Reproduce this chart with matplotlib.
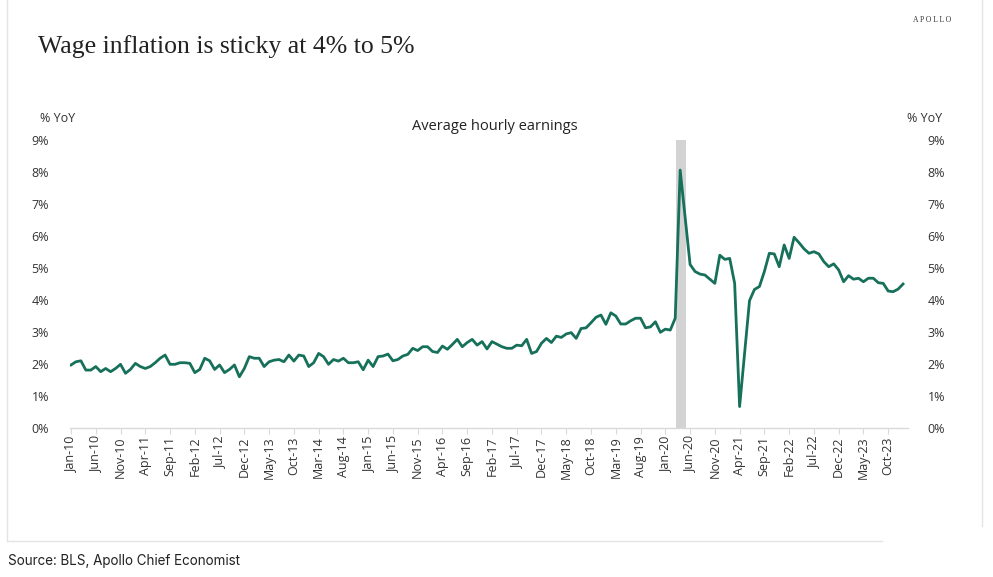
import matplotlib
matplotlib.use("Agg")
import matplotlib.pyplot as plt
import numpy as np
import pandas as pd

# Average hourly earnings, % YoY, monthly Jan-2010 .. Jan-2024
ahe_2010 = [1.97, 2.07, 2.10, 1.81, 1.81, 1.92, 1.76, 1.86, 1.76, 1.86, 1.99, 1.71]
ahe_2011 = [1.83, 2.02, 1.92, 1.86, 1.92, 2.04, 2.18, 2.28, 1.99, 1.99, 2.04, 2.04]
ahe_2012 = [2.02, 1.73, 1.83, 2.18, 2.10, 1.83, 1.97, 1.73, 1.83, 1.97, 1.60, 1.86]
ahe_2013 = [2.23, 2.18, 2.18, 1.92, 2.07, 2.12, 2.14, 2.07, 2.28, 2.09, 2.28, 2.25]
ahe_2014 = [1.92, 2.04, 2.33, 2.23, 1.99, 2.14, 2.09, 2.18, 2.04, 2.04, 2.07, 1.82]
ahe_2015 = [2.12, 1.92, 2.23, 2.25, 2.31, 2.10, 2.14, 2.25, 2.30, 2.49, 2.42, 2.54]
ahe_2016 = [2.54, 2.39, 2.36, 2.56, 2.46, 2.61, 2.77, 2.54, 2.67, 2.77, 2.59, 2.70]
ahe_2017 = [2.47, 2.70, 2.62, 2.54, 2.49, 2.49, 2.59, 2.57, 2.77, 2.33, 2.39, 2.65]
ahe_2018 = [2.80, 2.67, 2.87, 2.83, 2.94, 2.98, 2.80, 3.11, 3.13, 3.29, 3.46, 3.53]
ahe_2019 = [3.24, 3.60, 3.50, 3.25, 3.25, 3.35, 3.43, 3.43, 3.13, 3.16, 3.32, 2.99]
ahe_2020 = [3.09, 3.06, 3.43, 8.06, 6.60, 5.11, 4.89, 4.81, 4.78, 4.65, 4.52, 5.40]
ahe_2021 = [5.27, 5.30, 4.52, 0.67, 2.33, 3.98, 4.33, 4.42, 4.89, 5.46, 5.44, 5.04]
ahe_2022 = [5.72, 5.30, 5.96, 5.79, 5.60, 5.46, 5.51, 5.44, 5.20, 5.04, 5.13, 4.94]
ahe_2023 = [4.57, 4.76, 4.65, 4.68, 4.57, 4.68, 4.68, 4.54, 4.52, 4.28, 4.26, 4.34]
ahe_2024 = [4.50]

values = (ahe_2010 + ahe_2011 + ahe_2012 + ahe_2013 + ahe_2014 + ahe_2015 + ahe_2016
          + ahe_2017 + ahe_2018 + ahe_2019 + ahe_2020 + ahe_2021 + ahe_2022 + ahe_2023 + ahe_2024)
months = pd.date_range("2010-01-01", periods=len(values), freq="MS")
month_labels = [d.strftime("%b-%y") for d in months]

# recession band (in month index units)
rec_start, rec_end = 122.1, 124.1

y_ticks = [0, 1, 2, 3, 4, 5, 6, 7, 8, 9]
y_labels = [f"{v}%" for v in y_ticks]

W, H = 993, 577
fig = plt.figure(figsize=(W / 100, H / 100), dpi=100)

def px(x, y):
    return x / W, 1 - y / H

text_col = "#333333"
tick_font = "Open Sans"

ax = fig.add_axes([70 / W, 149 / H, 838 / W, 288 / H])
x = np.arange(len(values))
ax.axvspan(rec_start, rec_end, color="#d3d3d3", lw=0, zorder=0)
ax.plot(x, values, color="#16705a", lw=2.0, solid_joinstyle="round", zorder=3)
ax.set_xlim(-0.2, 169)
ax.set_ylim(0, 9)

for s in ["top", "left", "right"]:
    ax.spines[s].set_visible(False)
ax.spines["bottom"].set_color("#d9d9d9")
ax.spines["bottom"].set_linewidth(1.0)

ax.set_xticks(x[::5])
ax.set_xticklabels(month_labels[::5], rotation=90, fontsize=9, family=tick_font, color=text_col)
ax.tick_params(axis="x", length=4, color="#d9d9d9", pad=2)

ax.set_yticks(y_ticks)
ax.set_yticklabels(y_labels, fontsize=9, family=tick_font, color=text_col)
ax.tick_params(axis="y", length=0, pad=15)

ax2 = ax.twinx()
ax2.set_ylim(0, 9)
ax2.set_yticks(y_ticks)
ax2.set_yticklabels(y_labels, fontsize=9, family=tick_font, color=text_col)
ax2.tick_params(axis="y", length=0, pad=14)
for s in ax2.spines.values():
    s.set_visible(False)

# texts
fig.text(*px(38, 47), "Wage inflation is sticky at 4% to 5%", family="Liberation Serif",
         fontsize=18.5, color="#222222", va="center", ha="left")
fig.text(*px(932, 20), "A P O L L O", family="Liberation Serif", fontsize=5.5,
         color="#333333", va="center", ha="center")
fig.text(*px(40, 119), "% YoY", family=tick_font, fontsize=9, color=text_col, va="center", ha="left")
fig.text(*px(907, 119), "% YoY", family=tick_font, fontsize=9, color=text_col, va="center", ha="left")
fig.text(*px(495, 127), "Average hourly earnings", family=tick_font, fontsize=10.5,
         color="#222222", va="center", ha="center")
fig.text(*px(8, 561), "Source: BLS, Apollo Chief Economist", family="Inter", fontsize=9.7,
         color="#222222", va="center", ha="left")

# light frame around the chart card
frame_col = "#e4e4e4"
fig.add_artist(plt.Line2D([7 / W, 7 / W], [1, 1 - 541 / H], color=frame_col, lw=1))
fig.add_artist(plt.Line2D([7 / W, 882 / W], [1 - 541 / H, 1 - 541 / H], color=frame_col, lw=1))
fig.add_artist(plt.Line2D([982 / W, 982 / W], [1, 1 - 526 / H], color=frame_col, lw=1))

fig.savefig("out.png", dpi=100)
